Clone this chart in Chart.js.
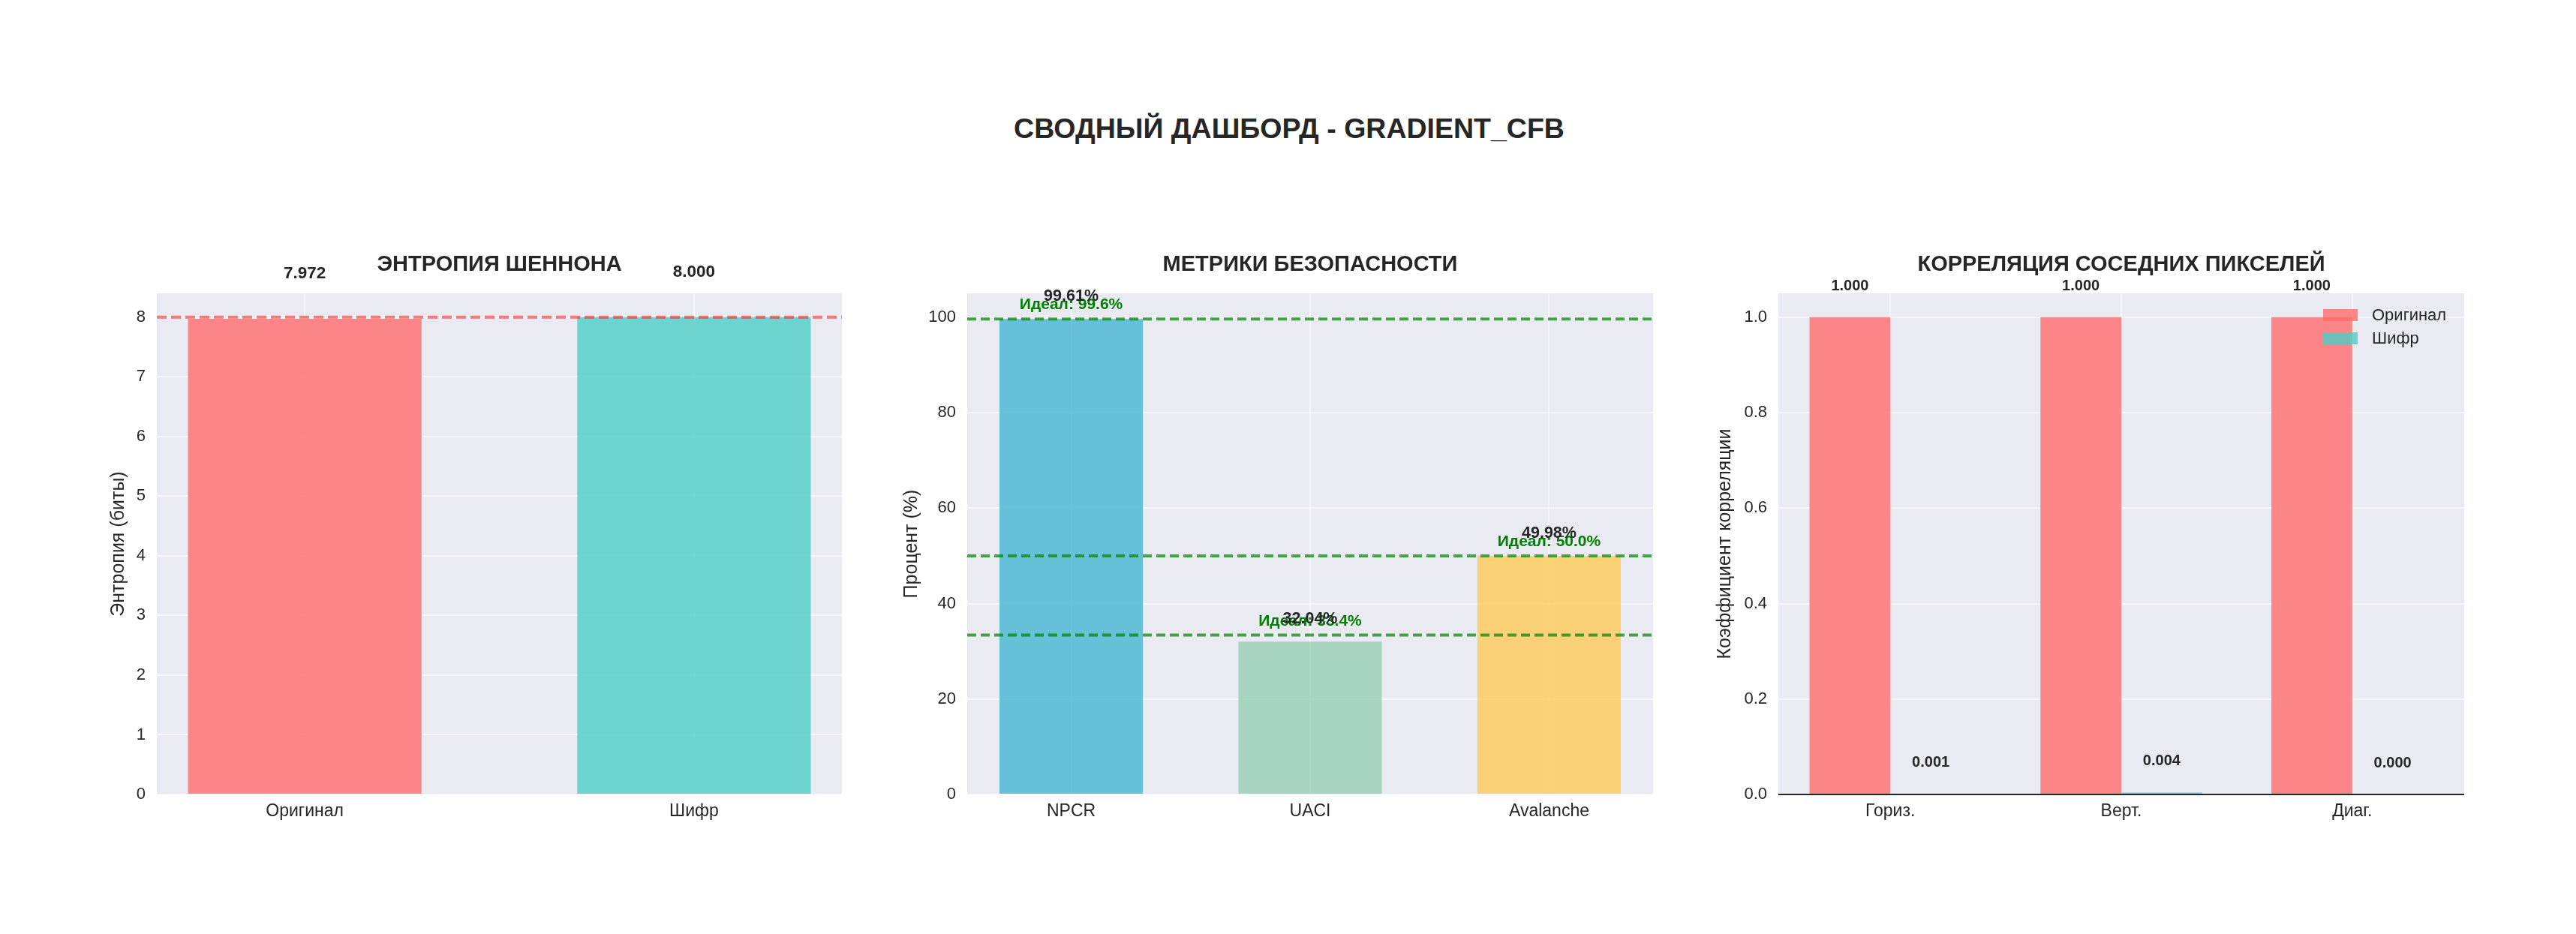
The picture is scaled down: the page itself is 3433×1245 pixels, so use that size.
<!DOCTYPE html>
<html>
<head>
<meta charset="utf-8">
<script src="https://cdn.jsdelivr.net/npm/chart.js@4.4.0/dist/chart.umd.min.js"></script>
<style>
body { margin: 0; background: #fff; width: 3433px; height: 1245px; overflow: hidden; position: relative; font-family: "Liberation Sans", Arial, sans-serif; }
#title { position: absolute; left: 1718px; top: 150px; transform: translateX(-50%); white-space: nowrap; font-size: 37.5px; font-weight: bold; color: #262626; }
canvas { position: absolute; }
</style>
</head>
<body>
<div id="title">СВОДНЫЙ ДАШБОРД - GRADIENT_CFB</div>
<canvas id="c1" width="989" height="789" style="left:143px;top:320px"></canvas>
<canvas id="c2" width="1013" height="789" style="left:1200px;top:320px"></canvas>
<canvas id="c3" width="1010" height="789" style="left:2284px;top:320px"></canvas>
<script>
// values
const entropyLabels = ['Оригинал', 'Шифр'];
const entropyValues = [7.972, 8.000];
const entropyIdeal = 8;

const metricLabels = ['NPCR', 'UACI', 'Avalanche'];
const metricValues = [99.61, 32.04, 49.98];
const metricIdeal = [99.6, 33.4, 50.0];

const corrLabels = ['Гориз.', 'Верт.', 'Диаг.'];
const corrSeries = ['Оригинал', 'Шифр'];
const corrOriginal = [1.000, 1.000, 1.000];
const corrCipher = [0.001, 0.004, 0.000];

const FONT = '"Liberation Sans", Arial, sans-serif';
const TEXT = '#262626';
const PANEL_BG = '#EAEAF2';
const GRID = 'rgba(255,255,255,0.55)';
const RED = 'rgba(255,107,107,0.8)';
const TEAL = 'rgba(78,205,196,0.8)';

// panel background, reference lines, value labels, titles
const decor = {
	id: 'decor',
	beforeDraw(chart) {
		const a = chart.chartArea, ctx = chart.ctx;
		ctx.save();
		ctx.fillStyle = PANEL_BG;
		ctx.fillRect(a.left, a.top, a.right - a.left, a.bottom - a.top);
		ctx.restore();
	},
	afterDatasetsDraw(chart, args, opts) {
		const a = chart.chartArea, ctx = chart.ctx;
		const xs = chart.scales.x, ys = chart.scales.y;
		ctx.save();
		(opts.lines || []).forEach(l => {
			const py = ys.getPixelForValue(l.value);
			ctx.beginPath();
			ctx.strokeStyle = l.color;
			ctx.lineWidth = l.width;
			ctx.setLineDash(l.dash || []);
			ctx.moveTo(a.left, py);
			ctx.lineTo(a.right, py);
			ctx.stroke();
		});
		ctx.setLineDash([]);
		ctx.textAlign = 'center';
		ctx.textBaseline = 'alphabetic';

		if (opts.ideals) {
			ctx.font = 'bold 21px ' + FONT;
			ctx.fillStyle = '#008000';
			opts.ideals.forEach((v, i) => {
				ctx.fillText('Идеал: ' + v.toFixed(1) + '%', xs.getPixelForValue(i), ys.getPixelForValue(v) - 13);
			});
		}

		ctx.font = 'bold ' + opts.valueSize + 'px ' + FONT;
		ctx.fillStyle = TEXT;
		chart.data.datasets.forEach((ds, di) => {
			chart.getDatasetMeta(di).data.forEach((bar, i) => {
				ctx.fillText(opts.format(ds.data[i].y), bar.x, bar.y - opts.valueGap);
			});
		});

		if (opts.legend) {
			const right = a.right - 142;
			chart.data.datasets.forEach((ds, di) => {
				const cy = a.top + 29 + di * 31;
				ctx.fillStyle = ds.backgroundColor;
				ctx.fillRect(right - 46, cy - 8, 46, 16);
				ctx.fillStyle = TEXT;
				ctx.font = '22px ' + FONT;
				ctx.textAlign = 'left';
				ctx.textBaseline = 'middle';
				ctx.fillText(ds.label, right + 19, cy + 1);
			});
		}
		ctx.restore();
	},
	afterDraw(chart, args, opts) {
		const a = chart.chartArea, ctx = chart.ctx;
		ctx.save();
		ctx.font = 'bold 29px ' + FONT;
		ctx.fillStyle = TEXT;
		ctx.textAlign = 'center';
		ctx.textBaseline = 'alphabetic';
		ctx.fillText(opts.title, (a.left + a.right) / 2, a.top - 30);
		ctx.restore();
	}
};

function xAxis(labels, min, max) {
	return {
		type: 'linear', min: min, max: max, offset: false,
		grid: { color: GRID, lineWidth: 2, drawTicks: false, offset: false },
		border: { display: false },
		ticks: {
			padding: 9, color: TEXT, font: { family: FONT, size: 23 },
			callback: v => labels[Math.round(v)] || ''
		},
		afterBuildTicks: s => { s.ticks = labels.map((_, i) => ({ value: i })); },
		afterFit: s => { s.height = 50; }
	};
}

function yAxis(title, max, step, width, fmt) {
	return {
		min: 0, max: max,
		grid: { color: GRID, lineWidth: 2, drawTicks: false },
		border: { display: false },
		ticks: {
			stepSize: step, includeBounds: false, padding: 15,
			color: TEXT, font: { family: FONT, size: 22 }, callback: fmt
		},
		title: { display: true, text: title, color: TEXT, font: { family: FONT, size: 25 }, padding: 0 },
		afterFit: s => { s.width = width; }
	};
}

function baseOptions(scales, decorOpts) {
	return {
		responsive: false,
		animation: false,
		devicePixelRatio: 1,
		layout: { padding: { top: 71, right: 10, bottom: 0, left: 0 } },
		scales: scales,
		plugins: { legend: { display: false }, tooltip: { enabled: false }, decor: decorOpts }
	};
}

const toPoints = arr => arr.map((v, i) => ({ x: i, y: v }));

new Chart(document.getElementById('c1'), {
	type: 'bar',
	data: {
		datasets: [{
			data: toPoints(entropyValues),
			backgroundColor: [RED, TEAL],
			borderWidth: 0, barPercentage: 0.6, categoryPercentage: 1
		}]
	},
	options: baseOptions(
		{ x: xAxis(entropyLabels, -0.38, 1.38), y: yAxis('Энтропия (биты)', 8.4, 1, 66, v => String(v)) },
		{
			title: 'ЭНТРОПИЯ ШЕННОНА',
			lines: [{ value: entropyIdeal, color: 'rgba(255,0,0,0.5)', width: 4, dash: [13, 6] }],
			valueSize: 22.5, valueGap: 54, format: v => v.toFixed(3)
		}
	),
	plugins: [decor]
});

new Chart(document.getElementById('c2'), {
	type: 'bar',
	data: {
		datasets: [{
			data: toPoints(metricValues),
			backgroundColor: ['rgba(69,183,209,0.8)', 'rgba(150,206,180,0.8)', 'rgba(254,202,87,0.8)'],
			borderWidth: 0, barPercentage: 0.6, categoryPercentage: 1
		}]
	},
	options: baseOptions(
		{ x: xAxis(metricLabels, -0.435, 2.435), y: yAxis('Процент (%)', 105, 20, 89, v => String(v)) },
		{
			title: 'МЕТРИКИ БЕЗОПАСНОСТИ',
			lines: metricIdeal.map(v => ({ value: v, color: 'rgba(0,128,0,0.7)', width: 4, dash: [12, 6] })),
			ideals: metricIdeal,
			valueSize: 21.5, valueGap: 24, format: v => v.toFixed(2) + '%'
		}
	),
	plugins: [decor]
});

new Chart(document.getElementById('c3'), {
	type: 'bar',
	data: {
		datasets: [
			{ label: corrSeries[0], data: toPoints(corrOriginal), backgroundColor: RED, borderWidth: 0, barPercentage: 1, categoryPercentage: 0.7 },
			{ label: corrSeries[1], data: toPoints(corrCipher), backgroundColor: TEAL, borderWidth: 0, barPercentage: 1, categoryPercentage: 0.7 }
		]
	},
	options: baseOptions(
		{ x: xAxis(corrLabels, -0.485, 2.485), y: yAxis('Коэффициент корреляции', 1.05, 0.2, 86, v => v.toFixed(1)) },
		{
			title: 'КОРРЕЛЯЦИЯ СОСЕДНИХ ПИКСЕЛЕЙ',
			lines: [{ value: 0, color: 'rgba(0,0,0,0.85)', width: 2 }],
			valueSize: 20, valueGap: 36, format: v => v.toFixed(3),
			legend: true
		}
	),
	plugins: [decor]
});
</script>
</body>
</html>
